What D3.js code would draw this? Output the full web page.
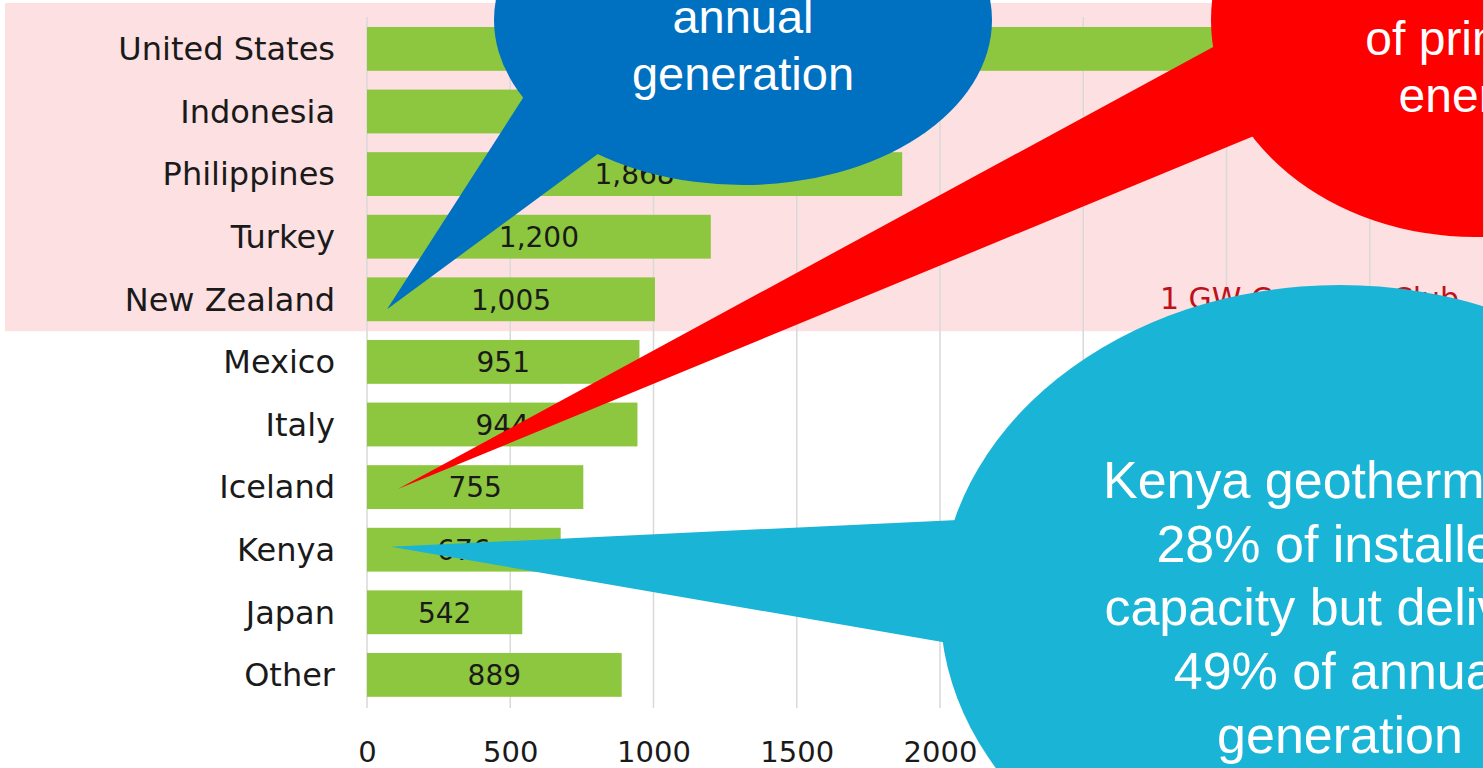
<!DOCTYPE html>
<html lang="en">
<head>
	<meta charset="UTF-8"/>
	<title>Geothermal installed capacity by country</title>
	<script src="https://d3js.org/d3.v7.min.js"></script>
	<style>
		body {
			margin: 0;
			overflow: hidden;
			background: #ffffff;
		}
		svg {
			display: block;
		}
		.axis text {
			font-family: "DejaVu Sans", sans-serif;
			fill: #1a1a1a;
		}
	</style>
</head>
<body>
	<script>

        var w = 1483;
        var h = 768;

        // installed geothermal capacity (MW)
        var countries = ["United States", "Indonesia", "Philippines", "Turkey", "New Zealand",
                         "Mexico", "Italy", "Iceland", "Kenya", "Japan", "Other"];
        var capacity = [3591, 1948, 1868, 1200, 1005, 951, 944, 755, 676, 542, 889];
        var xTicks = [0, 500, 1000, 1500, 2000, 2500, 3000, 3500, 4000];
        var xTickLabels = [0, 500, 1000, 1500, 2000];   // the rest sit under the Kenya callout
        var clubCountries = ["United States", "Indonesia", "Philippines", "Turkey", "New Zealand"];
        var clubLabel = "1 GW Capacity Club";

        // callout texts
        var nzNote = ["annual", "generation"];
        var icelandNote = ["of primary", "energy"];
        var kenyaNote = ["Kenya geothermal is", "28% of installed", "capacity but delivers", "49% of annual", "generation"];

        var dataset = countries.map(function(c, i) {
            return {country: c, value: capacity[i]};
        });

        var xScale = d3.scaleLinear()
                    .domain([0, 4000])
                    .range([367, 1513]);

        var yScale = d3.scaleBand()
                    .domain(countries)
                    .range([17.6, 706.2])
                    .paddingInner(0.3)
                    .paddingOuter(0.15);

        var svg = d3.select("body")
                    .append("svg")
                    .attr("width", w)
                    .attr("height", h);

        svg.append("rect")
            .attr("width", w)
            .attr("height", h)
            .attr("fill", "#ffffff");

        // 1 GW club band
        var clubTop = yScale(clubCountries[0]) - 24;
        var clubBottom = yScale(clubCountries[clubCountries.length - 1]) + yScale.bandwidth() + 10;
        svg.append("rect")
            .attr("x", 5)
            .attr("y", clubTop)
            .attr("width", w - 5)
            .attr("height", clubBottom - clubTop)
            .attr("fill", "#fde0e1");

        // gridlines
        svg.selectAll("line.grid")
            .data(xTicks)
            .enter()
            .append("line")
            .attr("class", "grid")
            .attr("x1", function(d) { return xScale(d); })
            .attr("x2", function(d) { return xScale(d); })
            .attr("y1", 17)
            .attr("y2", 708)
            .attr("stroke", "#d9d9d9")
            .attr("stroke-width", 1.5);

        svg.append("text")
            .attr("x", 1160)
            .attr("y", 309)
            .attr("fill", "#c0101a")
            .style("font-family", "DejaVu Sans, sans-serif")
            .style("font-size", "30px")
            .text(clubLabel);

        // bars
        svg.selectAll("rect.bar")
            .data(dataset)
            .enter()
            .append("rect")
            .attr("class", "bar")
            .attr("x", xScale(0))
            .attr("y", function(d) { return yScale(d.country); })
            .attr("width", function(d) { return xScale(d.value) - xScale(0); })
            .attr("height", yScale.bandwidth())
            .attr("fill", "#8dc63f");

        svg.selectAll("text.value")
            .data(dataset)
            .enter()
            .append("text")
            .attr("class", "value")
            .attr("text-anchor", "middle")
            .attr("x", function(d) { return (xScale(0) + xScale(d.value)) / 2; })
            .attr("y", function(d) { return yScale(d.country) + yScale.bandwidth() / 2; })
            .attr("dy", "0.37em")
            .attr("fill", "#1a1a1a")
            .style("font-family", "DejaVu Sans, sans-serif")
            .style("font-size", "28px")
            .text(function(d) { return d3.format(",")(d.value); });

        // axes
        var xAxis = d3.axisBottom(xScale)
                    .tickValues(xTickLabels)
                    .tickSize(0)
                    .tickPadding(0)
                    .tickFormat(d3.format("d"));

        var yAxis = d3.axisLeft(yScale)
                    .tickSize(0)
                    .tickPadding(32);

        var gx = svg.append("g")
            .attr("class", "axis")
            .attr("transform", "translate(0, 741)")
            .call(xAxis);
        gx.select(".domain").remove();
        gx.selectAll("text").style("font-size", "29px");

        var gy = svg.append("g")
            .attr("class", "axis")
            .attr("transform", "translate(" + xScale(0) + ", 0)")
            .call(yAxis);
        gy.select(".domain").remove();
        gy.selectAll("text").style("font-size", "32px").attr("dy", "0.35em");

        // speech bubble callouts
        function rowMid(c) {
            return yScale(c) + yScale.bandwidth() / 2;
        }

        function bubble(opt) {
            var g = svg.append("g");
            g.append("ellipse")
                .attr("cx", opt.cx)
                .attr("cy", opt.cy)
                .attr("rx", opt.rx)
                .attr("ry", opt.ry)
                .attr("fill", opt.color);
            g.append("polygon")
                .attr("points", [opt.base1, opt.tip, opt.base2].map(function(p) {
                    return p.join(",");
                }).join(" "))
                .attr("fill", opt.color);
            g.selectAll("text")
                .data(opt.lines)
                .enter()
                .append("text")
                .attr("text-anchor", "middle")
                .attr("x", opt.textX)
                .attr("y", function(d, i) { return opt.firstBaseline + i * opt.lineHeight; })
                .attr("fill", "#ffffff")
                .style("font-family", "Liberation Sans, Arial, sans-serif")
                .style("font-size", opt.fontSize + "px")
                .text(function(d) { return d; });
        }

        bubble({
            color: "#0070c0",
            cx: 743, cy: 20, rx: 249, ry: 165,
            tip: [xScale(70), rowMid("New Zealand") + 10],
            base1: [550, 56], base2: [629, 131],
            lines: nzNote, textX: 743, firstBaseline: 33, lineHeight: 57, fontSize: 47
        });

        bubble({
            color: "#ff0000",
            cx: 1475, cy: 20, rx: 264, ry: 217,
            tip: [xScale(108), rowMid("Iceland") + 2],
            base1: [1261, 21], base2: [1305, 115],
            lines: icelandNote, textX: 1472, firstBaseline: 55, lineHeight: 57, fontSize: 48
        });

        bubble({
            color: "#19b4d6",
            cx: 1340, cy: 605, rx: 400, ry: 320,
            tip: [xScale(84), rowMid("Kenya") - 3],
            base1: [1000, 518], base2: [1000, 652],
            lines: kenyaNote, textX: 1340, firstBaseline: 498, lineHeight: 63.7, fontSize: 52
        });

	</script>
</body>
</html>
